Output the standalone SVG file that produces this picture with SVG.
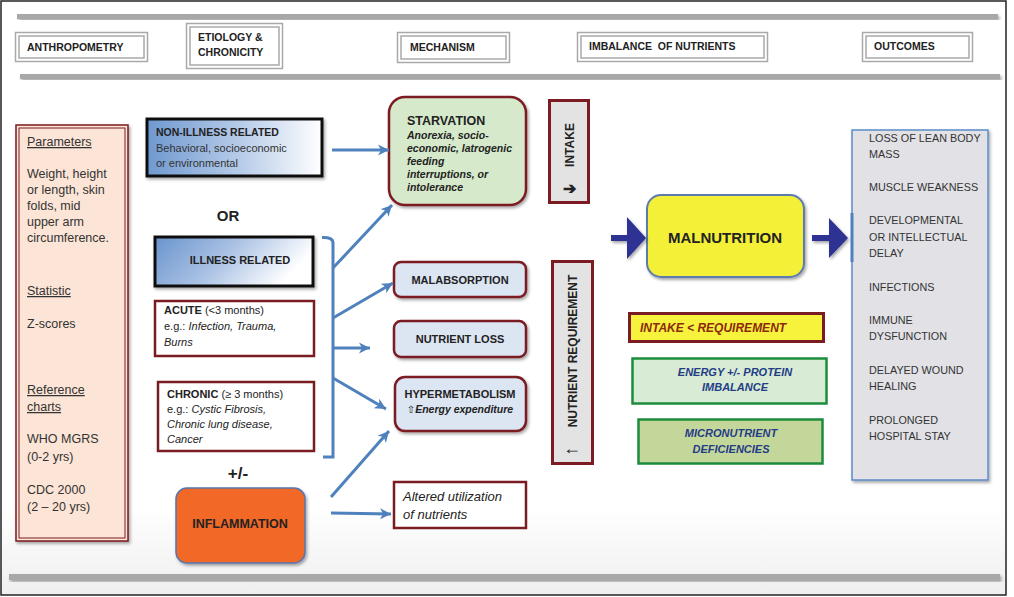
<svg xmlns="http://www.w3.org/2000/svg" width="1014" height="597" viewBox="0 0 1014 597">
<defs>
<style>
text{font-family:"Liberation Sans",Arial,sans-serif;}
.hdr{font-size:10.5px;font-weight:bold;fill:#222;}
.hbox{fill:#fff;stroke:#a9a9a9;stroke-width:1.5;}
.lt{font-size:12.5px;fill:#333;}
.ul{text-decoration:underline;}
.conn{stroke:#4f81bd;stroke-width:3;fill:none;}
.oc{font-size:10.8px;fill:#333;}
.mech{font-size:11px;font-weight:bold;fill:#222;text-anchor:middle;}
.imb{font-size:11px;font-weight:bold;font-style:italic;fill:#243c86;text-anchor:middle;}
.gbar{fill:#a8a8a8;}
</style>
<filter id="sh" x="-10%" y="-10%" width="130%" height="130%">
<feDropShadow dx="1.5" dy="2" stdDeviation="1.5" flood-color="#000" flood-opacity="0.35"/>
</filter>
<linearGradient id="bg" x1="0" y1="0" x2="0" y2="1">
<stop offset="0.85" stop-color="#ffffff"/>
<stop offset="1" stop-color="#efefef"/>
</linearGradient>
<linearGradient id="blueg" x1="0" y1="0" x2="1" y2="0">
<stop offset="0" stop-color="#6f99d0"/>
<stop offset="0.55" stop-color="#b9cde9"/>
<stop offset="1" stop-color="#ffffff"/>
</linearGradient>
<linearGradient id="blueg2" x1="0" y1="0" x2="1" y2="0.3">
<stop offset="0" stop-color="#6a94cd"/>
<stop offset="0.5" stop-color="#a9c1e4"/>
<stop offset="1" stop-color="#ffffff"/>
</linearGradient>
<marker id="ab" markerWidth="12" markerHeight="12" refX="11" refY="6" orient="auto" markerUnits="userSpaceOnUse">
<path d="M0,0.5 L11,6 L0,11.5 L3,6 z" fill="#4f81bd"/>
</marker>
</defs>

<rect x="1" y="1" width="1005" height="594" fill="url(#bg)" stroke="#222" stroke-width="1.5"/>

<g id="bars">
<rect class="gbar" x="17" y="14" width="981" height="5" filter="url(#sh)"/>
<rect class="gbar" x="20" y="74" width="980" height="5" filter="url(#sh)"/>
<rect class="gbar" x="9" y="574" width="991" height="6" filter="url(#sh)"/>
</g>

<g id="hdr-anthropometry">
<rect class="hbox" x="15.5" y="32.5" width="132" height="29"/>
<rect class="hbox" x="19" y="36" width="125" height="22"/>
<text class="hdr" x="27" y="51">ANTHROPOMETRY</text>
</g>
<g id="hdr-etiology">
<rect class="hbox" x="186.5" y="23.5" width="96" height="45"/>
<rect class="hbox" x="190" y="27" width="89" height="38"/>
<text class="hdr" x="198" y="41">ETIOLOGY &amp;</text>
<text class="hdr" x="198" y="56">CHRONICITY</text>
</g>
<g id="hdr-mechanism">
<rect class="hbox" x="397.5" y="32.5" width="112" height="30"/>
<rect class="hbox" x="401" y="36" width="105" height="23"/>
<text class="hdr" x="410" y="51">MECHANISM</text>
</g>
<g id="hdr-imbalance">
<rect class="hbox" x="577.5" y="32.5" width="190" height="29"/>
<rect class="hbox" x="581" y="36" width="183" height="22"/>
<text class="hdr" x="589" y="50" xml:space="preserve">IMBALANCE  OF NUTRIENTS</text>
</g>
<g id="hdr-outcomes">
<rect class="hbox" x="862.5" y="32.5" width="110" height="29"/>
<rect class="hbox" x="866" y="36" width="103" height="22"/>
<text class="hdr" x="874" y="50">OUTCOMES</text>
</g>

<g id="anthropometry">
<rect x="16" y="125" width="112" height="416" fill="#fce4d6" stroke="#7a1c22" stroke-width="1.5" filter="url(#sh)"/>
<rect x="19" y="128" width="106" height="410" fill="none" stroke="#7a1c22" stroke-width="1"/>
<text class="lt ul" x="27" y="146">Parameters</text>
<text class="lt" x="27" y="178">Weight, height</text>
<text class="lt" x="27" y="194">or length, skin</text>
<text class="lt" x="27" y="210">folds, mid</text>
<text class="lt" x="27" y="226">upper arm</text>
<text class="lt" x="27" y="242">circumference.</text>
<text class="lt ul" x="27" y="295">Statistic</text>
<text class="lt" x="27" y="328">Z-scores</text>
<text class="lt ul" x="27" y="394">Reference</text>
<text class="lt ul" x="27" y="411">charts</text>
<text class="lt" x="27" y="443">WHO MGRS</text>
<text class="lt" x="27" y="461">(0-2 yrs)</text>
<text class="lt" x="27" y="494">CDC 2000</text>
<text class="lt" x="27" y="511">(2 – 20 yrs)</text>
</g>

<g id="non-illness">
<rect x="147" y="119" width="175" height="57" fill="url(#blueg)" stroke="#111" stroke-width="3" filter="url(#sh)"/>
<text x="156" y="136" font-size="10.5" font-weight="bold" fill="#222">NON-ILLNESS RELATED</text>
<text x="156" y="152" font-size="11" fill="#333">Behavioral, socioeconomic</text>
<text x="156" y="167" font-size="11" fill="#333">or environmental</text>
</g>

<text id="or" x="228" y="221" font-size="15" font-weight="bold" fill="#222" text-anchor="middle">OR</text>

<g id="illness">
<rect x="155" y="237" width="158" height="49" fill="url(#blueg2)" stroke="#111" stroke-width="3" filter="url(#sh)"/>
<text x="240" y="264" font-size="11" font-weight="bold" fill="#222" text-anchor="middle">ILLNESS RELATED</text>
</g>

<g id="acute">
<rect x="155" y="301" width="159" height="55" fill="#fff" stroke="#7a1c22" stroke-width="2.5"/>
<text x="164" y="314" font-size="11" fill="#222"><tspan font-weight="bold">ACUTE</tspan> (&lt;3 months)</text>
<text x="164" y="330" font-size="11" fill="#222">e.g.: <tspan font-style="italic">Infection, Trauma,</tspan></text>
<text x="164" y="346" font-size="11" fill="#222" font-style="italic">Burns</text>
</g>

<g id="chronic">
<rect x="158" y="382" width="156" height="69" fill="#fff" stroke="#7a1c22" stroke-width="2.5"/>
<text x="167" y="398" font-size="11" fill="#222"><tspan font-weight="bold">CHRONIC</tspan> (≥ 3 months)</text>
<text x="167" y="413" font-size="11" fill="#222">e.g.: <tspan font-style="italic">Cystic Fibrosis,</tspan></text>
<text x="167" y="428" font-size="11" fill="#222" font-style="italic">Chronic lung disease,</text>
<text x="167" y="443" font-size="11" fill="#222" font-style="italic">Cancer</text>
</g>

<text id="plusminus" x="238" y="479" font-size="17" font-weight="bold" fill="#222" text-anchor="middle">+/-</text>

<g id="inflammation">
<rect x="176" y="488" width="129" height="75" rx="11" fill="#f26725" stroke="#5776ae" stroke-width="1.5" filter="url(#sh)"/>
<text x="240" y="528" font-size="12.5" font-weight="bold" fill="#222" text-anchor="middle">INFLAMMATION</text>
</g>

<g id="starvation">
<rect x="389" y="97" width="137" height="108" rx="16" fill="#d6eacb" stroke="#7a1c22" stroke-width="2.5" filter="url(#sh)"/>
<text x="407" y="125" font-size="12.5" font-weight="bold" fill="#222">STARVATION</text>
<g font-size="10.5" font-weight="bold" font-style="italic" fill="#222">
<text x="407" y="139">Anorexia, socio-</text>
<text x="407" y="152">economic, latrogenic</text>
<text x="407" y="165">feeding</text>
<text x="407" y="178">interruptions, or</text>
<text x="407" y="191">intolerance</text>
</g>
</g>

<g id="malabsorption">
<rect x="394" y="262" width="132" height="35" rx="7" fill="#dce5f2" stroke="#7a1c22" stroke-width="2.5" filter="url(#sh)"/>
<text class="mech" x="460" y="284">MALABSORPTION</text>
</g>
<g id="nutrient-loss">
<rect x="394" y="321" width="132" height="36" rx="7" fill="#dce5f2" stroke="#7a1c22" stroke-width="2.5" filter="url(#sh)"/>
<text class="mech" x="460" y="343">NUTRIENT LOSS</text>
</g>
<g id="hypermetabolism">
<rect x="395" y="377" width="131" height="54" rx="10" fill="#dce5f2" stroke="#7a1c22" stroke-width="2.5" filter="url(#sh)"/>
<text class="mech" x="460" y="398">HYPERMETABOLISM</text>
<text x="460" y="413" font-size="10.5" font-weight="bold" font-style="italic" fill="#222" text-anchor="middle"><tspan font-family="DejaVu Sans" font-weight="normal" font-style="normal" font-size="10">⇧</tspan>Energy expenditure</text>
</g>
<g id="altered">
<rect x="394" y="482" width="132" height="46" fill="#fff" stroke="#7a1c22" stroke-width="2.5"/>
<text x="403" y="501" font-size="13" font-style="italic" fill="#222">Altered utilization</text>
<text x="403" y="519" font-size="13" font-style="italic" fill="#222">of nutrients</text>
</g>

<g id="intake">
<rect x="549.5" y="100.5" width="39" height="102" fill="#e3e3e3" stroke="#7a1c22" stroke-width="3"/>
<text transform="translate(573.5,145) rotate(-90)" font-size="12" font-weight="bold" fill="#222" text-anchor="middle">INTAKE</text>
<text x="569" y="194" font-size="16" font-family="DejaVu Sans" font-weight="bold" fill="#222" text-anchor="middle">➔</text>
</g>
<g id="nutrient-requirement">
<rect x="552.5" y="261.5" width="40" height="202" fill="#e3e3e3" stroke="#7a1c22" stroke-width="3"/>
<text transform="translate(577,351) rotate(-90)" font-size="12" font-weight="bold" fill="#222" text-anchor="middle">NUTRIENT REQUIREMENT</text>
<text x="572" y="454" font-size="18" font-family="DejaVu Sans" font-weight="bold" fill="#222" text-anchor="middle">←</text>
</g>

<g id="malnutrition">
<rect x="647" y="195" width="157" height="82" rx="14" fill="#f4f037" stroke="#5b7bb0" stroke-width="2" filter="url(#sh)"/>
<text x="725" y="243" font-size="15" font-weight="bold" fill="#222" text-anchor="middle">MALNUTRITION</text>
</g>

<g id="intake-lt-req">
<rect x="629.5" y="313.5" width="194" height="28" fill="#f7f23c" stroke="#7a1c22" stroke-width="3"/>
<text x="640" y="332" font-size="12" font-weight="bold" font-style="italic" fill="#8b2a0c">INTAKE &lt; REQUIREMENT</text>
</g>
<g id="energy-protein">
<rect x="632.5" y="358.5" width="194" height="45" fill="#d8ecd5" stroke="#1c8c3c" stroke-width="2.5"/>
<text class="imb" x="735" y="376">ENERGY +/- PROTEIN</text>
<text class="imb" x="735" y="391">IMBALANCE</text>
</g>
<g id="micronutrient">
<rect x="638.5" y="419.5" width="184" height="44" fill="#c4d79b" stroke="#1c8c3c" stroke-width="2.5"/>
<text class="imb" x="731" y="437">MICRONUTRIENT</text>
<text class="imb" x="731" y="453">DEFICIENCIES</text>
</g>

<g id="outcomes">
<rect x="852" y="130" width="136" height="350" fill="#e1e1e6" stroke="#5b8cc8" stroke-width="1.5" filter="url(#sh)"/>
<line x1="852" y1="213" x2="852" y2="262" stroke="#4f81bd" stroke-width="3"/>
<text class="oc" x="869" y="142">LOSS OF LEAN BODY</text>
<text class="oc" x="869" y="158">MASS</text>
<text class="oc" x="869" y="191">MUSCLE WEAKNESS</text>
<text class="oc" x="869" y="224">DEVELOPMENTAL</text>
<text class="oc" x="869" y="241">OR INTELLECTUAL</text>
<text class="oc" x="869" y="257">DELAY</text>
<text class="oc" x="869" y="291">INFECTIONS</text>
<text class="oc" x="869" y="324">IMMUNE</text>
<text class="oc" x="869" y="340">DYSFUNCTION</text>
<text class="oc" x="869" y="374">DELAYED WOUND</text>
<text class="oc" x="869" y="390">HEALING</text>
<text class="oc" x="869" y="424">PROLONGED</text>
<text class="oc" x="869" y="440">HOSPITAL STAY</text>
</g>

<g id="connectors">
<path class="conn" d="M322,237.5 Q333,237 333,243 L333,457 L323,457"/>
<line class="conn" x1="332" y1="150" x2="389" y2="150" marker-end="url(#ab)"/>
<line class="conn" x1="333" y1="268" x2="392" y2="205" marker-end="url(#ab)"/>
<line class="conn" x1="333" y1="318" x2="393" y2="283" marker-end="url(#ab)"/>
<line class="conn" x1="333" y1="348" x2="370" y2="348" marker-end="url(#ab)"/>
<line class="conn" x1="333" y1="378" x2="386" y2="409" marker-end="url(#ab)"/>
<line class="conn" x1="331" y1="497" x2="389" y2="431" marker-end="url(#ab)"/>
<line class="conn" x1="331" y1="513" x2="391" y2="514" marker-end="url(#ab)"/>
<path d="M611,235 L627,235 L627,217 L646,238 L627,259 L627,241 L611,241 z" fill="#2e3192" filter="url(#sh)"/>
<path d="M812,235 L829,235 L829,218 L848,238 L829,258 L829,241 L812,241 z" fill="#2e3192" filter="url(#sh)"/>
</g>
</svg>
